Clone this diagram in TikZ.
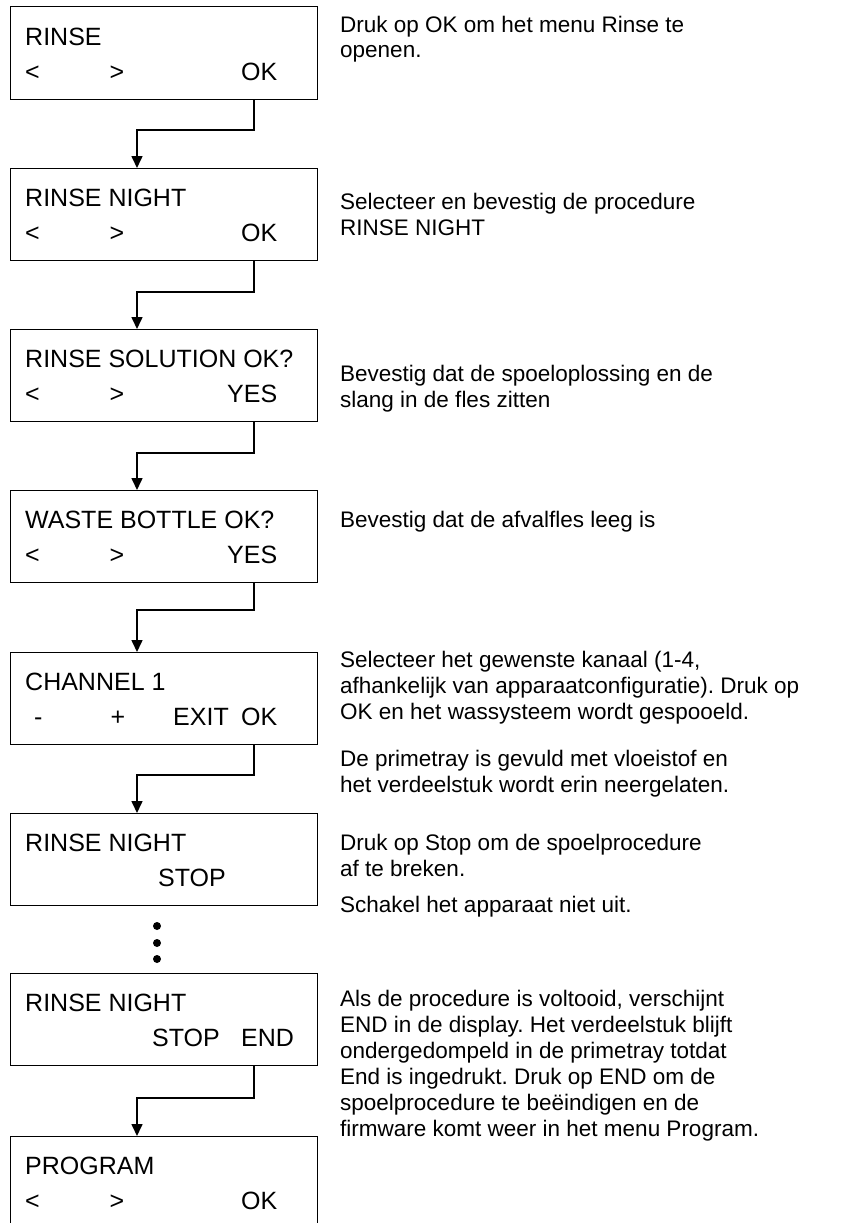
\documentclass[tikz,border=0pt]{standalone}
\usepackage{fontspec}
\setmainfont{Liberation Sans}
\usetikzlibrary{arrows.meta,calc}
\frenchspacing
\begin{document}
\begin{tikzpicture}[x=1pt,y=-1pt,
  lcd/.style={draw=black,line width=1pt,minimum width=307pt,minimum height=92pt,
    inner sep=0pt,outer sep=0pt,anchor=north west},
  key/.style={anchor=base west,inner sep=0pt,font=\fontsize{25}{29}\selectfont},
  note/.style={anchor=base west,inner sep=0pt,align=left,
    font=\fontsize{22.5}{25.9}\selectfont\frenchspacing},
  conn/.style={line width=1.6pt,-{Triangle[length=12pt,width=11pt]}},
  dot/.style={circle,fill=black,inner sep=0pt,minimum size=8pt}]
\useasboundingbox (0,0) rectangle (859,1223);

% display screens
\node[lcd] (b1) at (10,7) {};
\node[lcd] (b2) at (10,168) {};
\node[lcd] (b3) at (10,329) {};
\node[lcd] (b4) at (10,490) {};
\node[lcd] (b5) at (10,652) {};
\node[lcd] (b6) at (10,813) {};
\node[lcd] (b7) at (10,973) {};
\node[lcd] (b8) at (10,1136) {};

% screen texts
\node[key] (b1a) at ($(b1.north west)+(15,38.5)$) {RINSE};
\node[key] (b1b) at ($(b1.north west)+(15,73.5)$) {<};
\node[key] (b1c) at ($(b1.north west)+(99.5,73.5)$) {>};
\node[key] (b1d) at ($(b1.north west)+(231,73.5)$) {OK};

\node[key] (b2a) at ($(b2.north west)+(15,38.5)$) {RINSE NIGHT};
\node[key] (b2b) at ($(b2.north west)+(15,73.5)$) {<};
\node[key] (b2c) at ($(b2.north west)+(99.5,73.5)$) {>};
\node[key] (b2d) at ($(b2.north west)+(231,73.5)$) {OK};

\node[key] (b3a) at ($(b3.north west)+(15,38.5)$) {RINSE SOLUTION OK?};
\node[key] (b3b) at ($(b3.north west)+(15,73.5)$) {<};
\node[key] (b3c) at ($(b3.north west)+(99.5,73.5)$) {>};
\node[key] (b3d) at ($(b3.north west)+(217,73.5)$) {YES};

\node[key] (b4a) at ($(b4.north west)+(15,38.5)$) {WASTE BOTTLE OK?};
\node[key] (b4b) at ($(b4.north west)+(15,73.5)$) {<};
\node[key] (b4c) at ($(b4.north west)+(99.5,73.5)$) {>};
\node[key] (b4d) at ($(b4.north west)+(217,73.5)$) {YES};

\node[key] (b5a) at ($(b5.north west)+(15,38.5)$) {CHANNEL 1};
\node[key] (b5b) at ($(b5.north west)+(24,73.5)$) {-};
\node[key] (b5c) at ($(b5.north west)+(100.5,73.5)$) {+};
\node[key] (b5d) at ($(b5.north west)+(163,73.5)$) {EXIT};
\node[key] (b5e) at ($(b5.north west)+(231,73.5)$) {OK};

\node[key] (b6a) at ($(b6.north west)+(15,38.5)$) {RINSE NIGHT};
\node[key] (b6b) at ($(b6.north west)+(148,73.5)$) {STOP};

\node[key] (b7a) at ($(b7.north west)+(15,38.5)$) {RINSE NIGHT};
\node[key] (b7b) at ($(b7.north west)+(142,73.5)$) {STOP};
\node[key] (b7c) at ($(b7.north west)+(231,73.5)$) {END};

\node[key] (b8a) at ($(b8.north west)+(15,38.5)$) {PROGRAM};
\node[key] (b8b) at ($(b8.north west)+(15,73.5)$) {<};
\node[key] (b8c) at ($(b8.north west)+(99.5,73.5)$) {>};
\node[key] (b8d) at ($(b8.north west)+(231,73.5)$) {OK};

% flow between screens
\draw[conn] ([xshift=244pt]b1.south west) -- ++(0,31) -| ([xshift=127pt]b2.north west);
\draw[conn] ([xshift=244pt]b2.south west) -- ++(0,32) -| ([xshift=127pt]b3.north west);
\draw[conn] ([xshift=244pt]b3.south west) -- ++(0,32) -| ([xshift=127pt]b4.north west);
\draw[conn] ([xshift=244pt]b4.south west) -- ++(0,28) -| ([xshift=127pt]b5.north west);
\draw[conn] ([xshift=244pt]b5.south west) -- ++(0,31) -| ([xshift=127pt]b6.north west);
\draw[conn] ([xshift=244pt]b7.south west) -- ++(0,33) -| ([xshift=127pt]b8.north west);

% continuation dots
\node[dot] (d1) at (157,926) {};
\node[dot] (d2) at (157,943) {};
\node[dot] (d3) at (157,959) {};

% explanations (anchored at the baseline of their last line)
\node[note] (t1) at (340,58) {Druk op OK om het menu Rinse te\\openen.};
\node[note] (t2) at (340,235) {Selecteer en bevestig de procedure\\RINSE NIGHT};
\node[note] (t3) at (340,407) {Bevestig dat de spoeloplossing en de\\slang in de fles zitten};
\node[note] (t4) at (340,527) {Bevestig dat de afvalfles leeg is};
\node[note] (t5) at (340,719) {Selecteer het gewenste kanaal (1-4,\\afhankelijk van apparaatconfiguratie). Druk op\\OK en het wassysteem wordt gespooeld.};
\node[note] (t6) at (340,792) {De primetray is gevuld met vloeistof en\\het verdeelstuk wordt erin neergelaten.};
\node[note] (t7) at (340,876) {Druk op Stop om de spoelprocedure\\af te breken.};
\node[note] (t8) at (340,912) {Schakel het apparaat niet uit.};
\node[note] (t9) at (340,1136) {Als de procedure is voltooid, verschijnt\\END in de display. Het verdeelstuk blijft\\ondergedompeld in de primetray totdat\\End is ingedrukt. Druk op END om de\\spoelprocedure te beëindigen en de\\firmware komt weer in het menu Program.};
\end{tikzpicture}
\end{document}
